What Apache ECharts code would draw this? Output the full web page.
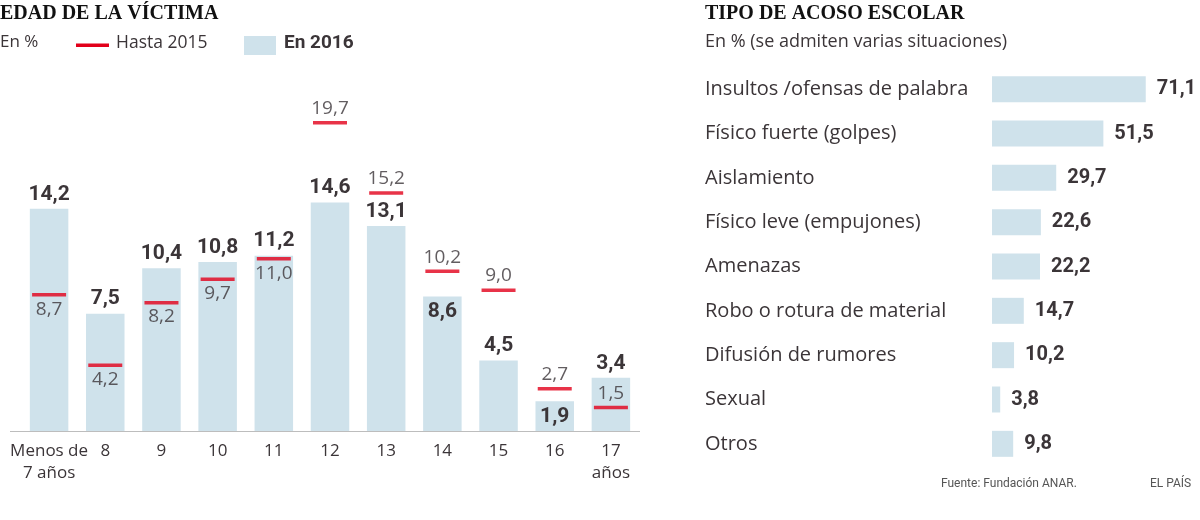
<!DOCTYPE html>
<html>
<head>
<meta charset="utf-8">
<script src="https://cdn.jsdelivr.net/npm/echarts@6/dist/echarts.min.js"></script>
<style>
html,body{margin:0;padding:0;background:#fff;}
#c{width:1200px;height:520px;}
</style>
</head>
<body>
<div id="c"></div>
<script>
// ---- Data ----
var ageCategories = ['Menos de\n7 años', '8', '9', '10', '11', '12', '13', '14', '15', '16', '17\naños'];
var values2016 = [14.2, 7.5, 10.4, 10.8, 11.2, 14.6, 13.1, 8.6, 4.5, 1.9, 3.4];
var valuesHasta2015 = [8.7, 4.2, 8.2, 9.7, 11.0, 19.7, 15.2, 10.2, 9.0, 2.7, 1.5];
var typeCategories = ['Insultos /ofensas de palabra', 'Físico fuerte (golpes)', 'Aislamiento', 'Físico leve (empujones)', 'Amenazas', 'Robo o rotura de material', 'Difusión de rumores', 'Sexual', 'Otros'];
var typeValues = [71.1, 51.5, 29.7, 22.6, 22.2, 14.7, 10.2, 3.8, 9.8];

// ---- Styles ----
var TXT = '#3b3538';
var RED = '#e2001a';
var BLUE = '#cfe2eb';
var FONT = '"Open Sans", Roboto, sans-serif';
var BOLD = 'Roboto, "Open Sans", sans-serif';
var SERIF = '"Liberation Serif", "DejaVu Serif", serif';

function fmt(v) { return v.toFixed(1).replace('.', ','); }

// per-item label placement
var data2016 = values2016.map(function (v, i) {
  var inside = (i === 7 || i === 9);
  return { value: v, label: { position: inside ? 'insideTop' : 'top', distance: inside ? 5 : 4 } };
});
var data2015 = valuesHasta2015.map(function (v, i) {
  return { value: v, label: { position: i <= 4 ? 'bottom' : 'top' } };
});

var chart = echarts.init(document.getElementById('c'), null, { renderer: 'canvas' });
chart.setOption({
  animation: false,
  textStyle: { fontFamily: FONT },
  grid: [
    { left: 21, right: 561, top: 118, bottom: 89 },
    { left: 992, right: 35, top: 67, bottom: 54 }
  ],
  xAxis: [
    {
      gridIndex: 0, type: 'category', data: ageCategories,
      axisLine: { show: false }, axisTick: { show: false },
      axisLabel: { color: TXT, fontSize: 17, fontWeight: 'normal', fontFamily: FONT, margin: 9, lineHeight: 22, interval: 0 }
    },
    {
      gridIndex: 1, type: 'value', min: 0, max: 80, show: false
    }
  ],
  yAxis: [
    { gridIndex: 0, type: 'value', min: 0, max: 20, show: false },
    {
      gridIndex: 1, type: 'category', data: typeCategories, inverse: true,
      axisLine: { show: false }, axisTick: { show: false },
      axisLabel: { color: TXT, fontSize: 20, fontWeight: 'normal', fontFamily: FONT, align: 'left', margin: 287 }
    }
  ],
  series: [
    {
      name: 'En 2016', type: 'bar', xAxisIndex: 0, yAxisIndex: 0,
      data: data2016, barWidth: 38.5,
      itemStyle: { color: BLUE },
      label: {
        show: true, color: TXT, fontSize: 21, fontWeight: 'bold', fontFamily: BOLD,
        formatter: function (p) { return fmt(p.value); }
      },
      z: 1
    },
    {
      name: 'Hasta 2015', type: 'scatter', xAxisIndex: 0, yAxisIndex: 0,
      data: data2015, symbol: 'rect', symbolSize: [34, 3.5],
      itemStyle: { color: RED },
      label: {
        show: true, color: TXT, fontSize: 19, fontWeight: 'normal', fontFamily: FONT, distance: 3,
        formatter: function (p) { return fmt(p.value); }
      },
      z: 3
    },
    {
      name: 'Tipo', type: 'bar', xAxisIndex: 1, yAxisIndex: 1,
      data: typeValues, barWidth: 26,
      itemStyle: { color: BLUE },
      label: {
        show: true, position: 'right', distance: 11, color: TXT, fontSize: 20, fontWeight: 'bold', fontFamily: BOLD,
        formatter: function (p) { return fmt(p.value); }
      }
    }
  ],
  graphic: [
    // baseline of left chart
    { type: 'line', shape: { x1: 10, y1: 431.5, x2: 640, y2: 431.5 }, style: { stroke: '#bdbdbd', lineWidth: 1 }, z: 0 },
    // titles
    { type: 'text', left: 0, top: 4, style: { text: 'EDAD DE LA VÍCTIMA', font: 'bold 20px ' + SERIF, fill: '#111' } },
    { type: 'text', left: 705, top: 4, style: { text: 'TIPO DE ACOSO ESCOLAR', font: 'bold 20px ' + SERIF, fill: '#111' } },
    // left legend
    { type: 'text', left: 0, top: 34, style: { text: 'En %', font: '17px ' + FONT, fill: TXT } },
    { type: 'rect', shape: { x: 76, y: 43.5, width: 33, height: 3.5 }, style: { fill: RED } },
    { type: 'text', left: 116, top: 34, style: { text: 'Hasta 2015', font: '17.5px ' + FONT, fill: TXT } },
    { type: 'rect', shape: { x: 244, y: 36, width: 32, height: 19 }, style: { fill: BLUE } },
    { type: 'text', left: 284, top: 34, style: { text: 'En 2016', font: 'bold 19px ' + BOLD, fill: TXT } },
    // right subtitle
    { type: 'text', left: 705, top: 33, style: { text: 'En % (se admiten varias situaciones)', font: '18px ' + FONT, fill: TXT } },
    // footer
    { type: 'text', left: 941, top: 478, style: { text: 'Fuente: Fundación ANAR.', font: '12px ' + BOLD, fill: '#555' } },
    { type: 'text', left: 1150, top: 478, style: { text: 'EL PAÍS', font: '12px ' + BOLD, fill: '#555' } }
  ]
});
</script>
</body>
</html>
